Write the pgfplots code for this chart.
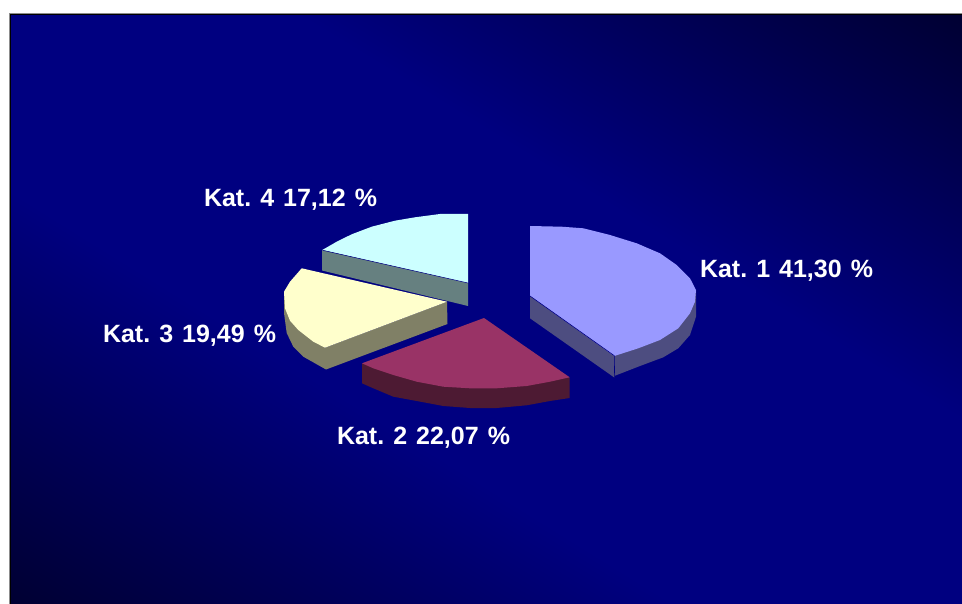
\documentclass[border=0pt]{standalone}
\usepackage{pgfplots}
\pgfplotsset{compat=1.18}
\usepackage{fontspec}
\setmainfont[WordSpace=1.3]{Liberation Sans}
\frenchspacing
\definecolor{navy}{RGB}{0,0,128}
\tikzset{lab/.style={anchor=base west,inner sep=0pt,outer sep=0pt,text=white,font=\fontsize{25}{30}\selectfont\bfseries\frenchspacing}}
\begin{document}
\begin{tikzpicture}
\begin{axis}[
  at={(0,0)},anchor=south west,
  scale only axis,width=962pt,height=604pt,
  xmin=0,xmax=962,ymin=0,ymax=604,y dir=reverse,
  hide axis,
  colormap={bg}{rgb255=(0,0,128) rgb255=(0,0,50)},
  point meta min=0,point meta max=1,
  every axis plot/.append style={no marks},
]
% page and panel
\addplot[draw=none,fill=white] coordinates {(0,0)(962,0)(962,604)(0,604)(0,0)};
\addplot[draw=none,fill=navy] coordinates {(10,14)(962,14)(962,604)(10,604)(10,14)};
% background gradient: dark corners top right and bottom left
\addplot[patch,patch type=triangle,shader=interp,point meta=explicit] table[meta=c] {
x y c
296 14 0
962 420 0
962 14 1
10 190 0
676 604 0
10 604 1
};
% panel edge
\addplot[draw={rgb,255:red,140;green,140;blue,140},line width=0.8pt] coordinates {(9.3,604)(9.3,13.3)(962,13.3)};
\addplot[draw=black,line width=0.9pt] coordinates {(10.2,604)(10.2,14.2)(962,14.2)};
% Kat. 4
\addplot[draw=none,fill={rgb,255:red,102;green,128;blue,128}] coordinates {(322,250)(468,283)(468,306)(322,270.5)(322,250)};
\addplot[draw=none,fill={rgb,255:red,204;green,255;blue,255}] coordinates {(468,283)(468,214)(440,214)(415,217.3)(395,220.7)(371.7,226.7)(351.7,234.3)(336.7,241.7)(322.3,250)(468,283)};
\addplot[draw=navy,line width=0.5pt] coordinates {(322.7,250.3)(468,283)};
% Kat. 3
\addplot[draw=none,fill={rgb,255:red,128;green,128;blue,102}] coordinates {(325,347.7)(447,301.7)(447.5,324)(326,369.5)(303.3,356.7)(293.3,346.7)(286.7,333)(284,313)(284,291.7)(325,347.7)};
\addplot[draw=none,fill={rgb,255:red,255;green,255;blue,204}] coordinates {(447,301.7)(325,347.7)(313.3,341.7)(298.3,330)(290,320.7)(285,308.3)(284,291.7)(290,281.7)(301.7,268.3)(447,301.7)};
% Kat. 2
\addplot[draw=none,fill={rgb,255:red,77;green,26;blue,51}] coordinates {(362,363.3)(569.7,377.3)(569.7,398)(550,401)(526.7,405.3)(496.7,408)(470,408)(443.3,406)(416.7,401)(393.3,396.7)(373.3,388.3)(362,383.3)(362,363.3)};
\addplot[draw=none,fill={rgb,255:red,153;green,51;blue,102}] coordinates {(484,318)(362,363.3)(373.3,368.3)(393.3,375)(416.7,381.7)(443.3,386.7)(470,388.3)(496.7,388.3)(526.7,386)(550,381.7)(569.7,377.3)(484,318)};
% Kat. 1
\addplot[draw=none,fill={rgb,255:red,77;green,77;blue,128}] coordinates {(530,296)(614.3,355.7)(696,290)(696,301.7)(696,316.7)(690,335)(678.3,348.3)(663.3,357.3)(640,366)(615,375.7)(614.3,377.5)(530,318.3)(530,296)};
\addplot[draw=none,fill={rgb,255:red,153;green,153;blue,255}] coordinates {(530,226)(561.7,226.7)(583.3,228.3)(610,235)(636.7,243.3)(660,253.3)(676.7,265)(690,278.3)(696,290)(695,301.7)(690,313.3)(678.3,328.3)(660,340)(638.3,348.3)(614.3,356)(530,296)(530,226)};
\addplot[draw=navy,line width=0.6pt] coordinates {(530,296)(614.3,355.7)(614.6,377)};
% labels
\node[lab] at (axis cs:204,207) {Kat. 4 17,12 \%};
\node[lab] at (axis cs:700,278) {Kat. 1 41,30 \%};
\node[lab] at (axis cs:103,342.5) {Kat. 3 19,49 \%};
\node[lab] at (axis cs:337,444) {Kat. 2 22,07 \%};
\end{axis}
\end{tikzpicture}
\end{document}
